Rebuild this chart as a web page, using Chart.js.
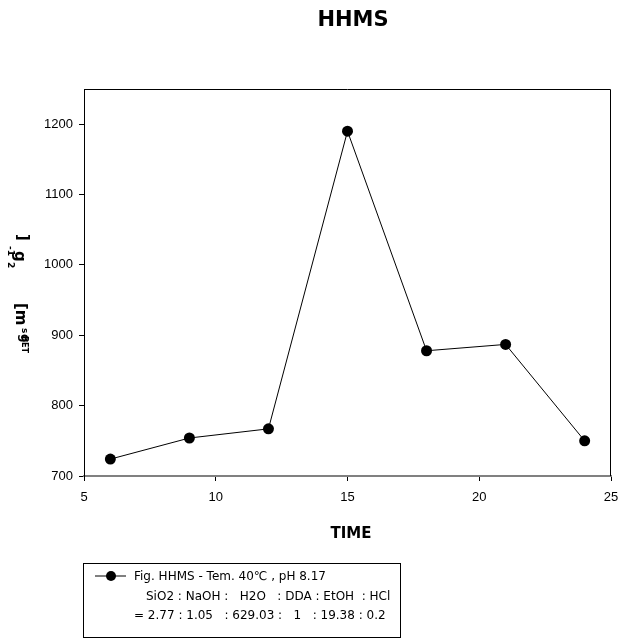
<!DOCTYPE html>
<html>
<head>
<meta charset="utf-8">
<title>HHMS</title>
<script src="https://cdn.jsdelivr.net/npm/chart.js@4/dist/chart.umd.min.js"></script>
<style>
  html, body { margin: 0; padding: 0; background: #fff; }
  #wrap { position: relative; width: 621px; height: 639px; }
</style>
</head>
<body>
<div id="wrap"><canvas id="chart"></canvas></div>
<script>
// ---- data ----
var times = [6, 9, 12, 15, 18, 21, 24];
var sbet = [724, 754, 767, 1190, 878, 887, 750];
var xTicks = [5, 10, 15, 20, 25];
var yTicks = [700, 800, 900, 1000, 1100, 1200];
var legendLines = [
  "Fig. HHMS - Tem. 40\u2103 , pH 8.17",
  "SiO2 : NaOH :   H2O   : DDA : EtOH  : HCl",
  "= 2.77 : 1.05   : 629.03 :   1   : 19.38 : 0.2"
];

(function () {
  "use strict";

  var TICK_FONT = { family: "Arial, 'Liberation Sans', sans-serif", size: 13 };
  var BOLD = "bold {s}px 'DejaVu Sans', Verdana, sans-serif";
  function bold(s) { return BOLD.replace("{s}", s); }
  function plain(v) { return String(v); }

  // draws text rotated 90deg clockwise, flowing downward from (x, y)
  function rotText(ctx, text, x, y, font) {
    ctx.save();
    ctx.translate(x, y);
    ctx.rotate(Math.PI / 2);
    ctx.font = font;
    ctx.textAlign = "left";
    ctx.textBaseline = "alphabetic";
    ctx.fillText(text, 0, 0);
    ctx.restore();
  }

  var decorations = {
    id: "decorations",
    afterDatasetsDraw: function (chart) {
      var ctx = chart.ctx;
      var a = chart.chartArea;
      ctx.save();
      // frame: left / top / right in black
      ctx.strokeStyle = "#000";
      ctx.lineWidth = 1;
      ctx.beginPath();
      ctx.moveTo(a.left + 0.5, a.bottom);
      ctx.lineTo(a.left + 0.5, a.top + 0.5);
      ctx.lineTo(a.right - 0.5, a.top + 0.5);
      ctx.lineTo(a.right - 0.5, a.bottom);
      ctx.stroke();

      ctx.fillStyle = "#000";
      ctx.textAlign = "center";
      ctx.textBaseline = "middle";
      ctx.font = bold(21);
      ctx.fillText("HHMS", 353, 21);
      ctx.font = bold(15);
      ctx.fillText("TIME", 351, 534);

      // y axis title (overlapping pieces, as in the source figure)
      rotText(ctx, "]", 18, 234, bold(15));
      rotText(ctx, "-1", 8, 246, bold(9));
      rotText(ctx, "g", 15, 251, bold(15));
      rotText(ctx, "2", 8, 262, bold(9));
      rotText(ctx, "[m", 16, 303, bold(15));
      rotText(ctx, "s", 22, 328, bold(9));
      rotText(ctx, "g", 21, 334, bold(12));
      rotText(ctx, "BET", 22, 336, bold(8));

      // legend box
      var lx = 83, ly = 563, lw = 317, lh = 74;
      ctx.strokeRect(lx + 0.5, ly + 0.5, lw, lh);
      ctx.beginPath();
      ctx.moveTo(95, 576);
      ctx.lineTo(126, 576);
      ctx.stroke();
      ctx.beginPath();
      ctx.arc(111, 576, 5, 0, Math.PI * 2);
      ctx.fill();
      ctx.font = "12px 'DejaVu Sans', Verdana, sans-serif";
      ctx.textAlign = "left";
      ctx.fillText(legendLines[0], 134, 577);
      ctx.fillText(legendLines[1], 146, 597);
      ctx.fillText(legendLines[2], 134, 616);
      ctx.restore();
    }
  };

  new Chart(document.getElementById("chart"), {
    type: "line",
    data: {
      datasets: [{
        label: legendLines[0],
        data: times.map(function (t, i) { return { x: t, y: sbet[i] }; }),
        borderColor: "#000",
        borderWidth: 1,
        backgroundColor: "#000",
        pointRadius: 5.5,
        pointBorderWidth: 0,
        tension: 0
      }]
    },
    options: {
      responsive: true,
      maintainAspectRatio: false,
      animation: false,
      layout: { padding: { left: 0, right: 10, top: 89, bottom: 0 } },
      plugins: { legend: { display: false }, tooltip: { enabled: false } },
      scales: {
        x: {
          type: "linear",
          min: 5,
          max: 25,
          afterBuildTicks: function (s) { s.ticks = xTicks.map(function (v) { return { value: v }; }); },
          afterFit: function (s) { s.height = 163; s.paddingLeft = 0; s.paddingRight = 0; },
          grid: { drawOnChartArea: false, tickLength: 5, color: "#000", tickColor: "#000" },
          border: { color: "#808080", width: 2 },
          ticks: { color: "#000", font: TICK_FONT, padding: 9, maxRotation: 0, callback: plain }
        },
        y: {
          min: 700,
          max: 1250,
          afterBuildTicks: function (s) { s.ticks = yTicks.map(function (v) { return { value: v }; }); },
          afterFit: function (s) { s.width = 84; s.paddingTop = 0; s.paddingBottom = 0; },
          grid: { drawOnChartArea: false, tickLength: 5, color: "#000", tickColor: "#000" },
          border: { color: "#000", width: 1 },
          ticks: { color: "#000", font: TICK_FONT, padding: 6, callback: plain }
        }
      }
    },
    plugins: [decorations]
  });
})();
</script>
</body>
</html>
